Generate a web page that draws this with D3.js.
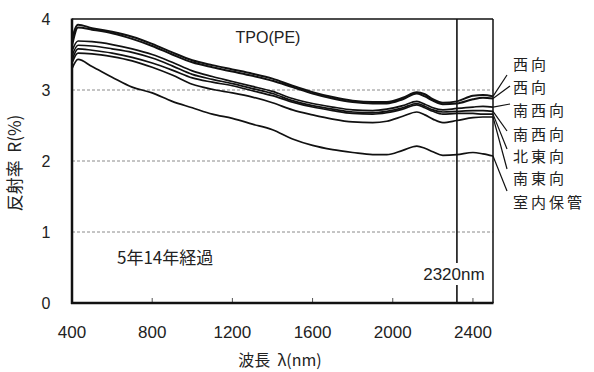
<!DOCTYPE html>
<html><head><meta charset="utf-8">
<script src="https://cdn.jsdelivr.net/npm/d3@7"></script>
<style>
html,body{margin:0;padding:0;background:#fff;}
svg text{font-family:"Liberation Sans","Noto Sans CJK JP",sans-serif;fill:#222;white-space:pre;}
.jp{font-family:"Noto Sans CJK JP",sans-serif;}
</style></head>
<body>
<svg id="c" width="594" height="372"></svg>
<script>
// ---- data ----
const wavelengths = [400,430,500,600,700,800,900,1000,1100,1200,1300,1400,1500,1600,1700,1800,1900,1970,2050,2120,2160,2200,2250,2320,2400,2450,2500];
const seriesNames = ["西向","西向","南西向","南西向","北東向","南東向","室内保管"];
const west1      = [3.72,3.92,3.87,3.82,3.75,3.65,3.53,3.42,3.35,3.29,3.23,3.16,3.06,2.97,2.90,2.85,2.83,2.83,2.89,2.97,2.94,2.87,2.82,2.84,2.92,2.93,2.91];
const west2      = [3.62,3.88,3.85,3.80,3.72,3.62,3.50,3.39,3.32,3.26,3.20,3.13,3.04,2.95,2.88,2.83,2.81,2.81,2.87,2.95,2.91,2.85,2.80,2.81,2.87,2.89,2.88];
const southwest1 = [3.55,3.69,3.68,3.64,3.58,3.50,3.39,3.27,3.19,3.12,3.05,2.98,2.88,2.81,2.76,2.72,2.71,2.73,2.78,2.84,2.80,2.75,2.72,2.74,2.76,2.77,2.76];
const southwest2 = [3.48,3.63,3.62,3.58,3.53,3.45,3.34,3.22,3.15,3.09,3.02,2.95,2.85,2.78,2.73,2.69,2.68,2.70,2.75,2.81,2.77,2.72,2.69,2.70,2.71,2.71,2.70];
const northeast  = [3.42,3.58,3.56,3.52,3.46,3.38,3.28,3.17,3.11,3.06,2.99,2.92,2.83,2.76,2.71,2.67,2.66,2.68,2.73,2.79,2.75,2.70,2.66,2.67,2.67,2.66,2.66];
const southeast  = [3.38,3.52,3.51,3.47,3.41,3.32,3.21,3.08,3.01,2.96,2.90,2.82,2.72,2.65,2.59,2.55,2.54,2.56,2.63,2.69,2.65,2.59,2.54,2.57,2.61,2.62,2.62];
const indoor     = [3.30,3.43,3.33,3.18,3.04,2.96,2.84,2.75,2.66,2.60,2.52,2.44,2.31,2.22,2.16,2.12,2.09,2.09,2.15,2.21,2.18,2.13,2.08,2.09,2.12,2.10,2.07];
const seriesValues = [west1, west2, southwest1, southwest2, northeast, southeast, indoor];
const xTicks = [400,800,1200,1600,2000,2400];
const yTicks = [0,1,2,3,4];
const gridValues = [1,2,3];
const markerWavelength = 2320;
const markerLabel = "2320nm";
const title = "TPO(PE)";
const note = "5年14年経過";
const yTitle = "反射率  R(%)";
const xTitle = "波長  λ(nm)";

// ---- layout ----
const svg = d3.select("#c");
const L = 72, R = 493, T = 19, B = 303;
const x = d3.scaleLinear().domain([400,2500]).range([L,R]);
const y = d3.scaleLinear().domain([0,4]).range([B,T]);
const labelY = [65, 88, 111, 135, 157, 179, 203];
const leaderEnd = [[507,75],[510,86],[510,104],[507,131],[507,149],[507,169],[507,191]];

// grid
svg.append("g").selectAll("line").data(gridValues).join("line")
  .attr("x1",L).attr("x2",R).attr("y1",d=>y(d)).attr("y2",d=>y(d))
  .attr("stroke","#8a8a8a").attr("stroke-width",1).attr("stroke-dasharray","3,2");

// bottom inner ticks
svg.append("g").selectAll("line").data(xTicks.slice(1)).join("line")
  .attr("x1",d=>x(d)).attr("x2",d=>x(d)).attr("y1",B).attr("y2",B-5)
  .attr("stroke","#555").attr("stroke-width",1);

// marker line
svg.append("line").attr("x1",x(markerWavelength)).attr("x2",x(markerWavelength))
  .attr("y1",T).attr("y2",B).attr("stroke","#111").attr("stroke-width",1.6);

// curves
const line = d3.line().x((d,i)=>x(wavelengths[i])).y(d=>y(d)).curve(d3.curveMonotoneX);
svg.append("g").selectAll("path").data(seriesValues).join("path")
  .attr("d",d=>line(d)).attr("fill","none").attr("stroke","#111")
  .attr("stroke-width",(d,i)=> i<2 ? 2 : 1.7);

// frame
svg.append("line").attr("x1",L).attr("x2",R).attr("y1",T).attr("y2",T).attr("stroke","#111").attr("stroke-width",1.5);
svg.append("line").attr("x1",R).attr("x2",R).attr("y1",T).attr("y2",B).attr("stroke","#111").attr("stroke-width",1.5);
svg.append("line").attr("x1",L).attr("x2",L).attr("y1",T-0.5).attr("y2",B+1).attr("stroke","#111").attr("stroke-width",2.5);
svg.append("line").attr("x1",L-1).attr("x2",R+0.5).attr("y1",B).attr("y2",B).attr("stroke","#111").attr("stroke-width",2.5);

// axis labels
svg.append("g").selectAll("text").data(yTicks).join("text")
  .attr("x",46).attr("y",d=>y(d)).attr("dy","0.35em").attr("text-anchor","middle")
  .attr("font-size",16).text(d=>d);
svg.append("g").selectAll("text").data(xTicks).join("text")
  .attr("x",d=>x(d)).attr("y",332).attr("dy","0.35em").attr("text-anchor","middle")
  .attr("font-size",17).text(d=>d);

// marker label with white background
const mx = x(markerWavelength);
svg.append("rect").attr("x",mx-38).attr("y",263).attr("width",72).attr("height",22).attr("fill","#fff");
svg.append("text").attr("x",mx-3).attr("y",274).attr("dy","0.35em").attr("text-anchor","middle")
  .attr("font-size",17).text(markerLabel);

// title & note
svg.append("text").attr("x",268).attr("y",43).attr("text-anchor","middle").attr("font-size",16).text(title);
svg.append("text").attr("class","jp").attr("x",117).attr("y",264).attr("font-size",17).text(note);

// axis titles
svg.append("text").attr("class","jp").attr("transform","translate(21,163) rotate(-90)")
  .attr("text-anchor","middle").attr("font-size",17).text(yTitle);
svg.append("text").attr("class","jp").attr("x",280).attr("y",366).attr("text-anchor","middle")
  .attr("font-size",16).text(xTitle);

// leader lines & series labels
const ends = seriesValues.map(s=>s[s.length-1]);
svg.append("g").selectAll("line").data(ends).join("line")
  .attr("x1",R).attr("y1",d=>y(d)).attr("x2",(d,i)=>leaderEnd[i][0]).attr("y2",(d,i)=>leaderEnd[i][1])
  .attr("stroke","#111").attr("stroke-width",1.2);
svg.append("g").selectAll("text").data(seriesNames).join("text")
  .attr("class","jp").attr("x",513).attr("y",(d,i)=>labelY[i]).attr("dy","0.36em")
  .attr("font-size",15).attr("letter-spacing",3).text(d=>d);
</script>
</body></html>
